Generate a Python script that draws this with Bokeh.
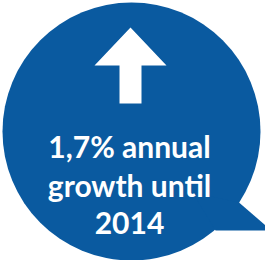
from bokeh.plotting import figure
from bokeh.models import Range1d
from bokeh.embed import file_html
from bokeh.resources import INLINE
from bokeh.core.properties import value

# Content
lines = ["1,7% annual", "growth until", "2014"]
line_baselines = [153, 192, 230]
text_x = 137

BLUE = "#0A5AA0"

# Geometry of the speech bubble (image pixel coordinates)
circle_cx, circle_cy, circle_r = 139, 139, 129
tail_xs = [246.5, 273, 273, 223, 200]
tail_ys = [210, 233, 238, 238, 200]
arrow_xs = [138, 174, 149, 149, 127, 127, 102]
arrow_ys = [35, 73, 73, 111, 111, 73, 73]

W, H = 265, 260
p = figure(width=W, height=H, output_backend="svg", toolbar_location=None,
           x_range=Range1d(8, 8 + W), y_range=Range1d(8 + H, 8),
           min_border=0, outline_line_color=None)
p.axis.visible = False
p.grid.visible = False
p.background_fill_color = "white"
p.border_fill_color = "white"

p.circle(x=[circle_cx], y=[circle_cy], radius=circle_r, fill_color=BLUE, line_color=None)
p.patch(x=tail_xs, y=tail_ys, fill_color=BLUE, line_color=None)
p.patch(x=arrow_xs, y=arrow_ys, fill_color="white", line_color=None)

p.text(x=[text_x] * len(lines), y=line_baselines, text=lines,
       text_font=value("Lato"), text_font_style="bold", text_font_size="30px",
       text_color="white", text_align="center", text_baseline="alphabetic")

open("out.html", "w").write(file_html(p, INLINE))
